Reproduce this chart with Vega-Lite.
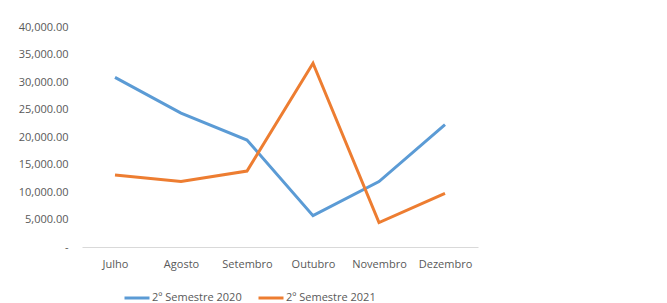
{
  "$schema": "https://vega.github.io/schema/vega-lite/v6.json",
  "width": 396,
  "height": 220,
  "autosize": {"type": "none"},
  "padding": {"left": 82, "top": 27, "right": 189, "bottom": 56},
  "background": "white",
  "config": {
    "view": {"stroke": null},
    "font": "Open Sans"
  },
  "data": {
    "values": [
      {"mes": "Julho", "serie": "2º Semestre 2020", "valor": 30850},
      {"mes": "Agosto", "serie": "2º Semestre 2020", "valor": 24350},
      {"mes": "Setembro", "serie": "2º Semestre 2020", "valor": 19450},
      {"mes": "Outubro", "serie": "2º Semestre 2020", "valor": 5700},
      {"mes": "Novembro", "serie": "2º Semestre 2020", "valor": 11900},
      {"mes": "Dezembro", "serie": "2º Semestre 2020", "valor": 22250},
      {"mes": "Julho", "serie": "2º Semestre 2021", "valor": 13100},
      {"mes": "Agosto", "serie": "2º Semestre 2021", "valor": 11900},
      {"mes": "Setembro", "serie": "2º Semestre 2021", "valor": 13800},
      {"mes": "Outubro", "serie": "2º Semestre 2021", "valor": 33400},
      {"mes": "Novembro", "serie": "2º Semestre 2021", "valor": 4450},
      {"mes": "Dezembro", "serie": "2º Semestre 2021", "valor": 9750}
    ]
  },
  "mark": {"type": "line", "strokeWidth": 3},
  "encoding": {
    "x": {
      "field": "mes",
      "type": "nominal",
      "sort": ["Julho", "Agosto", "Setembro", "Outubro", "Novembro", "Dezembro"],
      "scale": {"type": "point", "padding": 0.5},
      "axis": {
        "title": null,
        "labelAngle": 0,
        "ticks": false,
        "domainColor": "#d9d9d9",
        "domainWidth": 1,
        "labelColor": "#595959",
        "labelFontSize": 11,
        "labelPadding": 11,
        "grid": false
      }
    },
    "y": {
      "field": "valor",
      "type": "quantitative",
      "scale": {"domain": [0, 40000], "nice": false},
      "axis": {
        "title": null,
        "values": [0, 5000, 10000, 15000, 20000, 25000, 30000, 35000, 40000],
        "labelExpr": "datum.value == 0 ? '-' : format(datum.value, ',.2f')",
        "ticks": false,
        "domain": false,
        "grid": false,
        "labelColor": "#595959",
        "labelFontSize": 11,
        "labelPadding": 14
      }
    },
    "color": {
      "field": "serie",
      "type": "nominal",
      "scale": {"domain": ["2º Semestre 2020", "2º Semestre 2021"], "range": ["#5b9bd5", "#ed7d31"]},
      "legend": {
        "title": null,
        "orient": "none",
        "direction": "horizontal",
        "legendX": 41,
        "legendY": 257,
        "symbolType": "M-1,0H1",
        "symbolSize": 625,
        "symbolStrokeWidth": 3,
        "labelColor": "#595959",
        "labelFontSize": 11,
        "labelOffset": 1,
        "columnPadding": 10
      }
    }
  }
}
